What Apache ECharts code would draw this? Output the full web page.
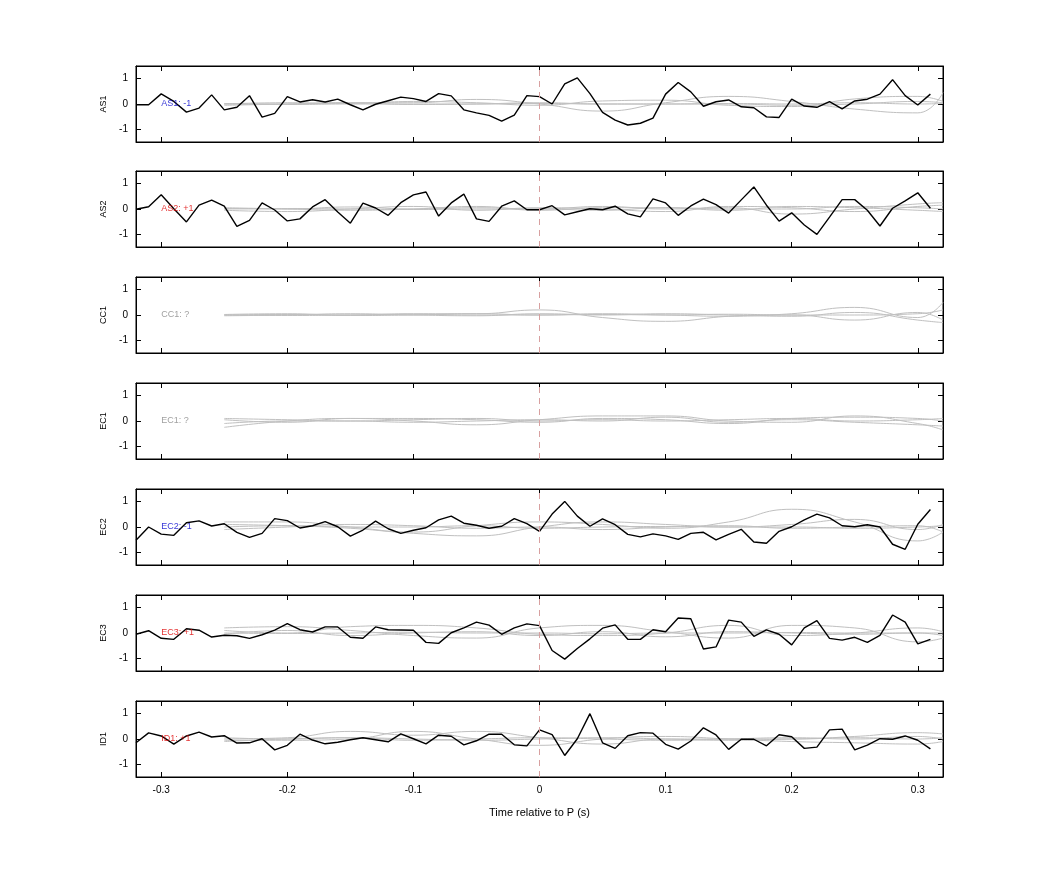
<!DOCTYPE html>
<html><head><meta charset="utf-8">
<script src="https://cdn.jsdelivr.net/npm/echarts@6/dist/echarts.min.js"></script>
<style>html,body{margin:0;background:#fff}#c{width:1042px;height:875px}</style>
</head><body><div id="c"></div>
<script>
const panelNames = ['AS1','AS2','CC1','EC1','EC2','EC3','ID1'];
const panelLabels = ['AS1: -1','AS2: +1','CC1: ?','EC1: ?','EC2: -1','EC3: +1','ID1: +1'];
const labelColors = ['#0000cc','#dd0000','#888888','#888888','#0000cc','#dd0000','#dd0000'];
const timeStart = -0.32, timeStep = 0.01;
const xTicks = [-0.3,-0.2,-0.1,0,0.1,0.2,0.3];
const yTicks = [-1,0,1];
const AS1 = [-0.03,-0.03,0.4,0.1,-0.32,-0.16,0.36,-0.23,-0.13,0.33,-0.52,-0.37,0.29,0.08,0.17,0.08,0.19,-0.03,-0.23,-0.01,0.13,0.27,0.21,0.1,0.41,0.32,-0.23,-0.35,-0.45,-0.68,-0.44,0.33,0.29,
 0,0.79,1.03,0.41,-0.33,-0.64,-0.83,-0.76,-0.56,0.39,0.85,0.48,-0.09,0.09,0.16,-0.11,-0.15,-0.51,-0.53,0.19,-0.08,-0.13,0.09,-0.19,0.12,0.19,0.39,0.96,0.33,-0.04,0.39];
const AS2 = [-0.01,0.09,0.56,0.01,-0.51,0.15,0.35,0.11,-0.69,-0.45,0.24,-0.04,-0.47,-0.39,0.08,0.37,-0.12,-0.56,0.23,0.04,-0.25,0.25,0.56,0.67,-0.28,0.24,0.59,-0.39,-0.49,0.11,0.32,-0.03,-0.03,
 0.13,-0.23,-0.11,0.01,-0.03,0.11,-0.19,-0.31,0.4,0.24,-0.25,0.12,0.39,0.17,-0.16,0.36,0.87,0.15,-0.48,-0.15,-0.63,-1.0,-0.32,0.37,0.37,-0.05,-0.67,0.03,0.32,0.64,0.03];
const CC1 = null;
const EC1 = null;
const EC2 = [-0.52,0,-0.28,-0.33,0.17,0.24,0.04,0.13,-0.21,-0.41,-0.25,0.33,0.25,-0.04,0.05,0.21,0.01,-0.36,-0.12,0.23,-0.07,-0.25,-0.13,-0.03,0.28,0.43,0.15,0.07,-0.05,0.03,0.33,0.13,-0.17,
 0.51,1.01,0.43,0.03,0.32,0.09,-0.29,-0.39,-0.27,-0.35,-0.49,-0.25,-0.21,-0.51,-0.29,-0.09,-0.59,-0.64,-0.17,0.01,0.28,0.51,0.36,0.05,0.01,0.09,0,-0.68,-0.88,0.11,0.69];
const EC3 = [-0.05,0.09,-0.21,-0.25,0.17,0.11,-0.16,-0.09,-0.11,-0.21,-0.07,0.11,0.37,0.13,0.04,0.24,0.24,-0.17,-0.21,0.24,0.13,0.12,0.11,-0.37,-0.41,0.01,0.2,0.43,0.31,-0.05,0.2,0.36,0.29,
 -0.69,-1.03,-0.61,-0.23,0.19,0.32,-0.25,-0.25,0.13,0.05,0.59,0.56,-0.63,-0.55,0.51,0.43,-0.13,0.12,-0.05,-0.47,0.2,0.49,-0.21,-0.28,-0.17,-0.37,-0.09,0.71,0.43,-0.43,-0.25];
const ID1 = [-0.15,0.24,0.12,-0.2,0.12,0.27,0.08,0.13,-0.16,-0.15,0.01,-0.43,-0.25,0.19,-0.04,-0.19,-0.13,-0.03,0.05,-0.03,-0.11,0.2,0.01,-0.19,0.15,0.11,-0.23,-0.07,0.19,0.19,-0.23,-0.27,0.36,
 0.17,-0.65,0.01,1.0,-0.15,-0.37,0.13,0.25,0.23,-0.21,-0.4,-0.08,0.44,0.16,-0.41,-0.01,-0.01,-0.27,0.17,0.09,-0.37,-0.32,0.36,0.39,-0.43,-0.24,0.01,-0.01,0.12,-0.05,-0.39];
const blackSeries = [AS1,AS2,CC1,EC1,EC2,EC3,ID1];
const grayX = [-0.25,-0.2,-0.15,-0.1,-0.05,0,0.05,0.1,0.15,0.2,0.25,0.3,0.32];
const grayAS1 = [[0.02,0.0,0.05,0.05,0.18,0.0,-0.28,0.05,0.3,0.1,-0.2,-0.35,0.45],[0,0.05,0.02,0.1,0.05,-0.05,0.12,0.15,-0.05,-0.1,0.2,0.3,0.1],[0.0,-0.02,0.0,0.0,0.0,0.02,0.0,0.0,0.02,0.0,0.05,0.0,0.02],[-0.05,0.0,0.05,-0.02,0.0,0.05,0.0,0.0,0.0,-0.05,0.0,0.1,0.05]];
const grayAS2 = [[0.02,0.0,0.08,0.0,0.05,0.0,0.1,0.0,0.05,-0.2,0.0,0.2,0.25],[-0.05,-0.1,0.0,0.1,-0.05,0.05,0.0,-0.1,0.1,0.05,-0.1,0.1,0.15],[0.05,0.0,-0.05,0.0,0.1,-0.05,0.05,0.05,-0.05,0.1,0.05,-0.05,-0.1],[0.0,0.02,0.0,-0.02,0.0,0.0,-0.05,0.05,0.0,0.0,0.1,0.05,0.0]];
const grayCC1 = [[0,0.02,0,0.05,0.05,0.2,-0.1,-0.25,-0.05,0.05,0.3,-0.1,0.5],[0.02,0.05,-0.02,0.0,0.05,0.0,0.05,0.0,-0.05,0.0,-0.2,0.1,-0.2],[-0.03,0.0,0.05,0.0,-0.03,0.05,0.0,0.05,0.0,-0.05,0.1,-0.2,-0.3],[0.0,-0.02,0.0,0.03,0.0,0.0,0.02,0.0,0.03,0.0,0.0,0.05,0.2]];
const grayEC1 = [[-0.25,0.0,0.1,0.0,-0.15,0.05,0.2,0.2,0.0,-0.05,0.2,-0.1,-0.35],[0.05,-0.05,0.1,0.1,0.05,-0.05,0.1,0.05,-0.1,0.1,0.15,0.1,0.0],[-0.1,0.0,0.0,-0.05,0.0,0.05,0.0,0.15,-0.05,0.05,-0.05,-0.15,-0.2],[0.1,0.05,0.0,0.05,0.1,0.0,0.05,0.0,0.05,0.1,0.0,0.05,0.1]];
const grayEC2 = [[0.2,0.2,0.0,-0.2,0.05,0.2,0.1,-0.05,0.2,0.7,0.2,-0.55,-0.2],[0.1,0.05,-0.05,-0.25,-0.35,0.0,0.2,0.1,0.0,0.1,0.3,-0.1,0.1],[-0.1,0.0,0.1,0.05,-0.05,0.0,-0.1,0.0,0.05,-0.05,0.0,0.05,-0.2],[0.0,0.05,0.0,0.0,0.05,-0.05,0.0,0.02,0.0,0.0,-0.05,0.0,0.05]];
const grayEC3 = [[0.2,0.25,0.1,-0.1,-0.2,0.2,0.3,0.05,-0.2,0.3,0.2,-0.35,-0.2],[0.1,0.0,0.25,0.3,0.2,-0.05,-0.1,0.0,0.3,-0.1,0.0,0.2,0.05],[-0.05,0.1,-0.1,0.0,0.05,-0.1,0.05,-0.15,0.05,0.0,-0.05,0.0,-0.1],[0.0,-0.02,0.0,0.03,0.0,0.0,-0.03,0.0,0.0,0.02,0.0,0.0,0.0]];
const grayID1 = [[0.0,0.05,0.3,0.15,0.3,0.05,-0.2,0.0,0.0,0.0,0.1,0.25,0.2],[-0.05,-0.05,0.0,0.3,0.0,-0.25,0.0,0.1,0.0,-0.1,-0.15,-0.2,-0.1],[0.05,0.0,0.05,0.0,-0.05,0.0,0.05,0.0,-0.05,0.0,0.05,0.0,0.05],[-0.1,0.0,0.05,-0.05,0.0,0.05,0.0,-0.05,0.0,0.05,0.0,0.1,0.0]];
const graySeries = [grayAS1,grayAS2,grayCC1,grayEC1,grayEC2,grayEC3,grayID1];

const tops = [66,171,277,383,489,595,701];
const gridH = 76;
const chart = echarts.init(document.getElementById('c'));
const grid=[], xAxis=[], yAxis=[], series=[];
const font = 'Helvetica, Arial, "Liberation Sans", sans-serif';
panelNames.forEach((nm,i)=>{
  const last = i===panelNames.length-1;
  grid.push({left:136, top:tops[i], width:807, height:gridH, show:true, borderColor:'#000', borderWidth:1, containLabel:false});
  const xBase = {type:'value', gridIndex:i, min:-0.32, max:0.32, splitLine:{show:false},
    axisLine:{show:true,onZero:false,lineStyle:{color:'#000'}}};
  xAxis.push(Object.assign({}, xBase, {position:'bottom',
    axisTick:{inside:true,length:5,customValues:xTicks,lineStyle:{color:'#000'}},
    axisLabel:{show:last,customValues:xTicks,color:'#000',fontSize:10,fontFamily:font,margin:8},
    name:last?'Time relative to P (s)':'', nameLocation:'middle', nameGap:30,
    nameTextStyle:{color:'#000',fontSize:11,fontFamily:font}}));
  xAxis.push(Object.assign({}, xBase, {position:'top',
    axisTick:{inside:true,length:5,customValues:xTicks,lineStyle:{color:'#000'}},
    axisLabel:{show:false}}));
  const yBase = {type:'value', gridIndex:i, min:-1.5, max:1.5, splitLine:{show:false},
    axisLine:{show:true,onZero:false,lineStyle:{color:'#000'}}};
  yAxis.push(Object.assign({}, yBase, {position:'left',
    axisTick:{inside:true,length:5,customValues:yTicks,lineStyle:{color:'#000'}},
    axisLabel:{customValues:yTicks,color:'#000',fontSize:10,fontFamily:font,margin:8},
    name:nm, nameLocation:'middle', nameRotate:90, nameGap:28,
    nameTextStyle:{color:'#000',fontSize:9,fontFamily:font}}));
  yAxis.push(Object.assign({}, yBase, {position:'right',
    axisTick:{inside:true,length:5,customValues:yTicks,lineStyle:{color:'#000'}},
    axisLabel:{show:false}}));
  const xi = i*2, yi = i*2;
  graySeries[i].forEach(g=>{
    series.push({type:'line', xAxisIndex:xi, yAxisIndex:yi, data:grayX.map((x,k)=>[x,g[k]]),
      smooth:0.5, showSymbol:false, lineStyle:{color:'#c0c0c0',width:1}, silent:true, z:2});
  });
  const b = blackSeries[i];
  series.push({type:'line', xAxisIndex:xi, yAxisIndex:yi,
    data: b ? b.map((v,k)=>[+(timeStart+k*timeStep).toFixed(2), v]) : [],
    showSymbol:false, lineStyle:{color:'#000',width:1.4}, silent:true, z:3,
    markLine:{silent:true, symbol:'none', label:{show:false},
      lineStyle:{color:'#d8a0a0',type:[6,5],width:1}, data:[{xAxis:0}]}});
  series.push({type:'scatter', xAxisIndex:xi, yAxisIndex:yi, data:[[-0.3,0]], symbolSize:0, silent:true, z:4,
    label:{show:true, position:'right', distance:0, formatter:panelLabels[i], color:labelColors[i], fontSize:9, fontFamily:font}});
});
chart.setOption({animation:false, backgroundColor:'#fff', grid, xAxis, yAxis, series});
</script></body></html>
